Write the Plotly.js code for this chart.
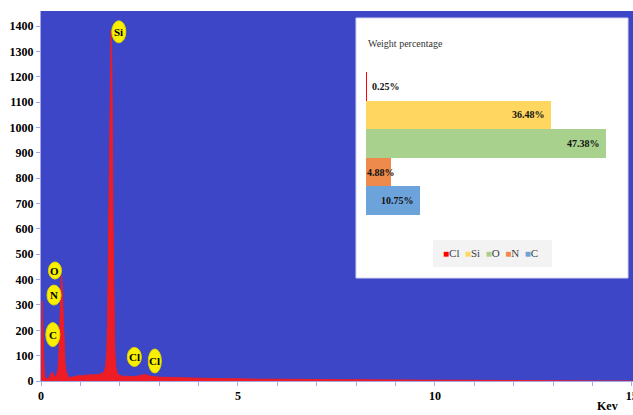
<!DOCTYPE html>
<html>
<head>
<meta charset="utf-8">
<script src="https://cdn.plot.ly/plotly-3.0.1.min.js"></script>
<style>html,body{margin:0;padding:0;background:#fff;}#chart{width:633px;height:415px;}</style>
</head>
<body>
<div id="chart"></div>
<script>
// ---- EDS spectrum (energy in keV, counts) ----
const energyKeV = [0, 0.01, 0.02, 0.03, 0.04, 0.05, 0.06, 0.08, 0.10, 0.12, 0.15, 0.18, 0.22, 0.25, 0.28, 0.31, 0.34, 0.37,
  0.40, 0.43, 0.45, 0.47, 0.49, 0.51, 0.52, 0.53, 0.55, 0.57, 0.59, 0.61, 0.64, 0.67, 0.70, 0.75, 0.80, 0.85, 0.90, 0.95,
  1.00, 1.05, 1.10, 1.15, 1.20, 1.25, 1.30, 1.35, 1.40, 1.45, 1.50, 1.55, 1.60, 1.64, 1.67, 1.69, 1.71, 1.73, 1.75, 1.76,
  1.77, 1.78, 1.79, 1.80, 1.81, 1.83, 1.85, 1.87, 1.90, 1.94, 2.00, 2.05, 2.10, 2.20, 2.30, 2.40, 2.50, 2.55, 2.62, 2.70,
  2.80, 2.90, 3.00, 3.20, 3.40, 3.60, 3.80, 4.00, 4.20, 4.40, 4.60, 4.80, 5.00, 5.30, 5.60, 6.00, 6.40, 6.80, 7.20, 7.60,
  8.00, 8.50, 9.00, 9.50, 10.00, 10.50, 11.00, 11.50, 12.00, 13.00, 14.00, 15.00];
const counts = [0, 150, 280, 315, 250, 160, 90, 40, 18, 10, 8, 10, 15, 28, 35, 30, 18, 15,
  25, 45, 90, 180, 300, 410, 418, 400, 320, 220, 130, 70, 35, 22, 15, 14, 16, 18, 17, 20,
  22, 19, 24, 21, 23, 26, 22, 25, 27, 24, 28, 30, 34, 55, 110, 240, 480, 820, 1150, 1300,
  1370, 1385, 1350, 1240, 1050, 620, 300, 130, 55, 30, 22, 20, 18, 19, 17, 18, 20, 22, 26, 22,
  18, 17, 15, 14, 13, 12, 11, 11, 10, 10, 9, 9, 8, 8, 7, 7, 6, 6, 5, 5,
  5, 4, 4, 4, 3, 3, 2, 2, 1, 1, 0, 0];

// ---- peak labels ----
const peakLabels = ['Si', 'O', 'N', 'C', 'Cl', 'Cl'];
const peakLabelKeV = [1.976, 0.355, 0.33, 0.30, 2.37, 2.89];
const peakLabelCounts = [1378, 436, 339, 183, 95, 79];
const peakLabelHalfW = [7, 6.5, 7, 7, 7, 6.5];
const peakLabelHalfH = [11, 8.5, 10, 12, 9.5, 12];

// ---- inset: weight percentage ----
const elements = ['Cl', 'Si', 'O', 'N', 'C'];
const weightPct = [0.25, 36.48, 47.38, 4.88, 10.75];
const elementColors = ['#ff0000', '#ffd65f', '#a9d18e', '#ee8a4c', '#6ca3da'];
const labelPlacement = ['outside', 'insideEnd', 'insideEnd', 'start', 'insideEnd'];

const serif = 'Liberation Serif, Times New Roman, serif';
const axisCol = '#a6a6e6';
const W = 633, H = 415, ML = 41, MR = 0, MT = 11, MB = 34;
const pw = W - ML - MR, ph = H - MT - MB;
const px = x => (x - ML) / pw;
const py = y => (H - MB - y) / ph;

const traces = [{
  type: 'scatter', mode: 'lines', x: energyKeV, y: counts,
  fill: 'tozeroy', fillcolor: '#ee1c25', line: {color: '#ee1c25', width: 1},
  xaxis: 'x', yaxis: 'y', showlegend: false, hoverinfo: 'skip'
}];
elements.forEach((el, i) => {
  traces.push({
    type: 'bar', orientation: 'h', name: el, y: [el], x: [weightPct[i]],
    marker: {color: elementColors[i], line: {width: 0}},
    xaxis: 'x2', yaxis: 'y2', showlegend: false, hoverinfo: 'skip'
  });
});

const shapes = [
  {type: 'rect', xref: 'paper', yref: 'paper', x0: 0, x1: 1, y0: 0, y1: 1, layer: 'below', fillcolor: '#3c46c7', line: {width: 0}},
  {type: 'rect', xref: 'paper', yref: 'paper', x0: px(356), x1: px(628), y0: py(278), y1: py(18), layer: 'below', fillcolor: '#ffffff', line: {color: '#d4d4f0', width: 1}},
  {type: 'rect', xref: 'paper', yref: 'paper', x0: px(433), x1: px(552), y0: py(267), y1: py(240), layer: 'below', fillcolor: '#f3f3f3', line: {width: 0}}
];
const annotations = [];
peakLabels.forEach((t, i) => {
  shapes.push({type: 'circle', xref: 'x', yref: 'y', xsizemode: 'pixel', ysizemode: 'pixel',
    xanchor: peakLabelKeV[i], yanchor: peakLabelCounts[i],
    x0: -peakLabelHalfW[i], x1: peakLabelHalfW[i], y0: -peakLabelHalfH[i], y1: peakLabelHalfH[i],
    fillcolor: '#f8f000', line: {color: '#e0d800', width: 1}, layer: 'above'});
  annotations.push({xref: 'x', yref: 'y', x: peakLabelKeV[i], y: peakLabelCounts[i], text: t, showarrow: false,
    xanchor: 'center', yanchor: 'middle', font: {family: serif, size: 11, color: '#000', weight: 'bold'}});
});
elements.forEach((el, i) => {
  const p = labelPlacement[i];
  const a = {xref: 'x2', yref: 'y2', y: el, text: weightPct[i].toFixed(2) + '%', showarrow: false, yanchor: 'middle',
    font: {family: serif, size: 10, color: '#111', weight: 'bold'}};
  if (p === 'outside') { a.x = weightPct[i]; a.xanchor = 'left'; a.xshift = 3; }
  else if (p === 'start') { a.x = 0; a.xanchor = 'left'; a.xshift = -1; }
  else { a.x = weightPct[i]; a.xanchor = 'right'; a.xshift = -4; }
  annotations.push(a);
});
annotations.push({xref: 'paper', yref: 'paper', x: px(366), y: py(44), xanchor: 'left', yanchor: 'middle', showarrow: false,
  text: 'Weight percentage', font: {family: serif, size: 10, color: '#333333'}});
annotations.push({xref: 'paper', yref: 'paper', x: px(490), y: py(253), xanchor: 'center', yanchor: 'middle', showarrow: false,
  text: elements.map((el, i) => '<span style="color:' + elementColors[i] + ';font-size:10px">■</span>' + el).join('  '),
  font: {family: serif, size: 11, color: '#404040'}});
annotations.push({xref: 'paper', yref: 'paper', x: px(607), y: py(406), xanchor: 'center', yanchor: 'middle', showarrow: false,
  text: 'Kev', font: {family: serif, size: 12, color: '#000', weight: 'bold'}});

const layout = {
  width: W, height: H, margin: {l: ML, r: MR, t: MT, b: MB, pad: 0},
  paper_bgcolor: '#ffffff', plot_bgcolor: 'rgba(0,0,0,0)', showlegend: false,
  font: {family: serif, color: '#000'},
  xaxis: {domain: [0, 1], range: [0, 15.03], tickmode: 'array', tickvals: [0, 5, 10, 15], ticktext: ['0', '5', '10', '15'],
    ticklabeloverflow: 'allow', showgrid: false, zeroline: false,
    showline: true, linecolor: axisCol, linewidth: 1, ticks: 'outside', ticklen: 4, tickcolor: axisCol,
    minor: {dtick: 1, tick0: 0, ticks: 'outside', ticklen: 4, tickcolor: axisCol, showgrid: false},
    tickfont: {family: serif, size: 12, color: '#000', weight: 'bold'}},
  yaxis: {domain: [0, 1], range: [0, 1460], dtick: 100, tick0: 0, showgrid: false, zeroline: false,
    showline: true, linecolor: axisCol, linewidth: 1, ticks: 'outside', ticklen: 4, tickcolor: axisCol,
    tickfont: {family: serif, size: 12, color: '#000', weight: 'bold'}},
  xaxis2: {domain: [px(366), px(616)], range: [0, 49.35], visible: false, anchor: 'y2', fixedrange: true},
  yaxis2: {domain: [py(215), py(72)], type: 'category', categoryorder: 'array', categoryarray: elements,
    range: [4.5, -0.5], visible: false, anchor: 'x2', fixedrange: true},
  barmode: 'overlay', bargap: 0,
  shapes: shapes, annotations: annotations
};
Plotly.newPlot('chart', traces, layout, {displayModeBar: false, staticPlot: true});
</script>
</body>
</html>
